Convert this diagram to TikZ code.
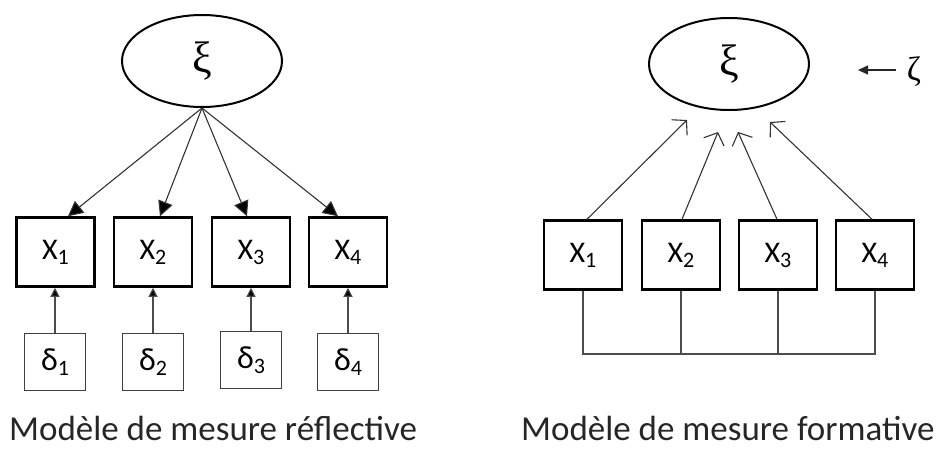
\documentclass[tikz,border=0pt]{standalone}
\usepackage{fontspec}
\setmainfont{Carlito}
\newfontfamily\grserif{Liberation Serif}
\usetikzlibrary{arrows.meta,calc,shapes.geometric}
\tikzset{
  latent/.style={draw=black, line width=2pt, ellipse, minimum width=160pt, minimum height=92pt, inner sep=0pt},
  manifest/.style={draw=black, line width=2.5pt, rectangle, minimum width=78pt, minimum height=69pt, inner sep=0pt},
  errbox/.style={draw=black!75, line width=1pt, rectangle, minimum width=61pt, minimum height=57pt, inner sep=0pt},
  refl/.style={draw=black!80, line width=1.1pt, -{Triangle[length=15pt,width=15pt,fill=black]}},
  erra/.style={draw=black!70, line width=1.1pt, -{Triangle[length=9pt,width=9pt,fill=black]}},
  form/.style={draw=black!80, line width=1.1pt, -{Straight Barb[length=10pt,width=22pt,line width=1.1pt]}},
  bus/.style={draw=black!70, line width=1.1pt},
  caption/.style={font=\fontsize{35}{40}\selectfont, text=black!85, inner sep=0pt, text depth=0pt, anchor=base west}
}
\newcommand{\xv}[1]{\fontsize{30}{32}\selectfont X\raisebox{-5pt}{\fontsize{22}{24}\selectfont #1}}
\newcommand{\dv}[1]{\fontsize{32}{34}\selectfont δ\raisebox{-5pt}{\fontsize{22}{24}\selectfont #1}}
\begin{document}
\begin{tikzpicture}[x=1pt,y=-1pt]
\useasboundingbox (0,0) rectangle (938,448);
% ---------- left: reflective ----------
\node[latent] (xiL) at (202,61) {\grserif\fontsize{44}{46}\selectfont ξ};
\node[manifest] (lx1) at (55.5,252) {\xv{1}};
\node[manifest] (lx2) at (153,252) {\xv{2}};
\node[manifest] (lx3) at (251,252) {\xv{3}};
\node[manifest] (lx4) at (348,252) {\xv{4}};
\node[errbox] (d1) at (55,362) {\dv{1}};
\node[errbox] (d2) at (153,362) {\dv{2}};
\node[errbox] (d3) at (251,360) {\dv{3}};
\node[errbox] (d4) at (348,362) {\dv{4}};
\coordinate (t1) at ($(lx1.north)+(12.5,0)$);
\coordinate (t2) at ($(lx2.north)+(7,0)$);
\coordinate (t3) at ($(lx3.north)+(-4,0)$);
\coordinate (t4) at ($(lx4.north)+(-10,0)$);
\draw[refl] (xiL.south) -- (t1);
\draw[refl] (xiL.south) -- (t2);
\draw[refl] (xiL.south) -- (t3);
\draw[refl] (xiL.south) -- (t4);
\draw[erra] (d1.north) -- (d1.north |- lx1.south);
\draw[erra] (d2.north) -- (d2.north |- lx2.south);
\draw[erra] (d3.north) -- (d3.north |- lx3.south);
\draw[erra] (d4.north) -- (d4.north |- lx4.south);
\node[caption] (capL) at (9,440) {Modèle de mesure réflective};
% ---------- right: formative ----------
\node[latent] (xiR) at (729,64) {\grserif\fontsize{44}{46}\selectfont ξ};
\node[manifest] (rx1) at (583,255) {\xv{1}};
\node[manifest] (rx2) at (681,255) {\xv{2}};
\node[manifest] (rx3) at (778,255) {\xv{3}};
\node[manifest] (rx4) at (875,255) {\xv{4}};
\coordinate (s1) at ($(rx1.north)+(4,0)$);
\coordinate (s2) at ($(rx2.north)+(1,0)$);
\coordinate (s3) at ($(rx3.north)+(-1,0)$);
\coordinate (s4) at ($(rx4.north)+(-3,0)$);
\coordinate (e1) at (687,120);
\coordinate (e2) at (718,132);
\coordinate (e3) at (738,132);
\coordinate (e4) at (770,122);
\draw[form] (s1) -- (e1);
\draw[form] (s2) -- (e2);
\draw[form] (s3) -- (e3);
\draw[form] (s4) -- (e4);
\coordinate (b1) at (rx1.south |- 0,354);
\coordinate (b4) at (rx4.south |- 0,354);
\draw[bus] (rx1.south) -- (b1) -- (b4) -- (rx4.south);
\draw[bus] (rx2.south) -- (rx2.south |- b1);
\draw[bus] (rx3.south) -- (rx3.south |- b1);
\node[inner sep=0pt] (zeta) at (914,72) {\grserif\fontsize{34}{36}\selectfont ζ};
\coordinate (zs) at (896,70);
\coordinate (ze) at (858,70);
\draw[draw=black!85, line width=1.3pt, -{Triangle[length=10pt,width=9pt]}] (zs) -- (ze);
\node[caption] (capR) at (521,440) {Modèle de mesure formative};
\end{tikzpicture}
\end{document}
